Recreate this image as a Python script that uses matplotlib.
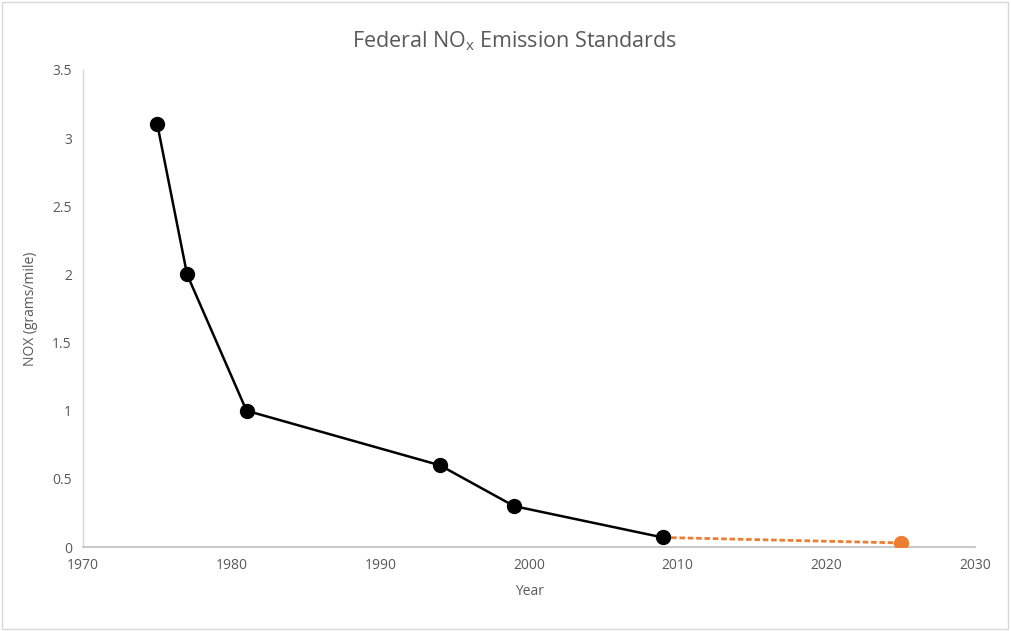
import matplotlib
matplotlib.use("Agg")
import matplotlib.pyplot as plt
from matplotlib.patches import Rectangle

plt.rcParams['font.family'] = ['Open Sans', 'DejaVu Sans']

# Federal NOx standards (grams/mile)
years = [1975, 1977, 1981, 1994, 1999, 2009]
nox = [3.1, 2.0, 1.0, 0.6, 0.3, 0.07]

# Projected standard
proj_years = [2009, 2025]
proj_nox = [0.07, 0.03]

x_ticks = [1970, 1980, 1990, 2000, 2010, 2020, 2030]
y_ticks = [0, 0.5, 1, 1.5, 2, 2.5, 3, 3.5]
y_tick_labels = ['0', '0.5', '1', '1.5', '2', '2.5', '3', '3.5']

text_color = '#595959'
axis_color = '#BFBFBF'

fig = plt.figure(figsize=(10.11, 6.31), dpi=100)
fig.patch.set_facecolor('white')
fig.patches.append(Rectangle((0.002, 0.003), 0.995, 0.994, transform=fig.transFigure,
                             fill=False, edgecolor='#D9D9D9', linewidth=1.0))

ax = fig.add_axes([0.0821, 0.1331, 0.8823, 0.756])

ax.plot(proj_years, proj_nox, color='#ED7D31', linestyle=(0, (2.0, 1.0)), linewidth=2.0, zorder=2)
ax.plot(proj_years[1:], proj_nox[1:], 'o', color='#ED7D31', markersize=10, zorder=3)
ax.plot(years, nox, color='black', linewidth=1.8, marker='o', markersize=10, zorder=4)

ax.set_xlim(1970, 2030)
ax.set_ylim(0, 3.5)
ax.set_xticks(x_ticks)
ax.set_yticks(y_ticks)
ax.set_yticklabels(y_tick_labels)
ax.tick_params(length=0, labelsize=10, labelcolor=text_color, pad=8)

for s in ['top', 'right']:
    ax.spines[s].set_visible(False)
ax.spines['left'].set_color('#D9D9D9')
ax.spines['bottom'].set_color(axis_color)
ax.spines['left'].set_linewidth(1.0)
ax.spines['bottom'].set_linewidth(1.2)

ax.set_xlabel('Year', fontsize=10, color=text_color, labelpad=8)
ax.set_ylabel('NOX (grams/mile)', fontsize=10, color=text_color, labelpad=10)

fig.text(0.509, 0.935, r'Federal NO$_\mathregular{x}$ Emission Standards', ha='center', va='center',
         fontsize=15.5, color=text_color)

fig.savefig('out.png', dpi=100, facecolor='white')
